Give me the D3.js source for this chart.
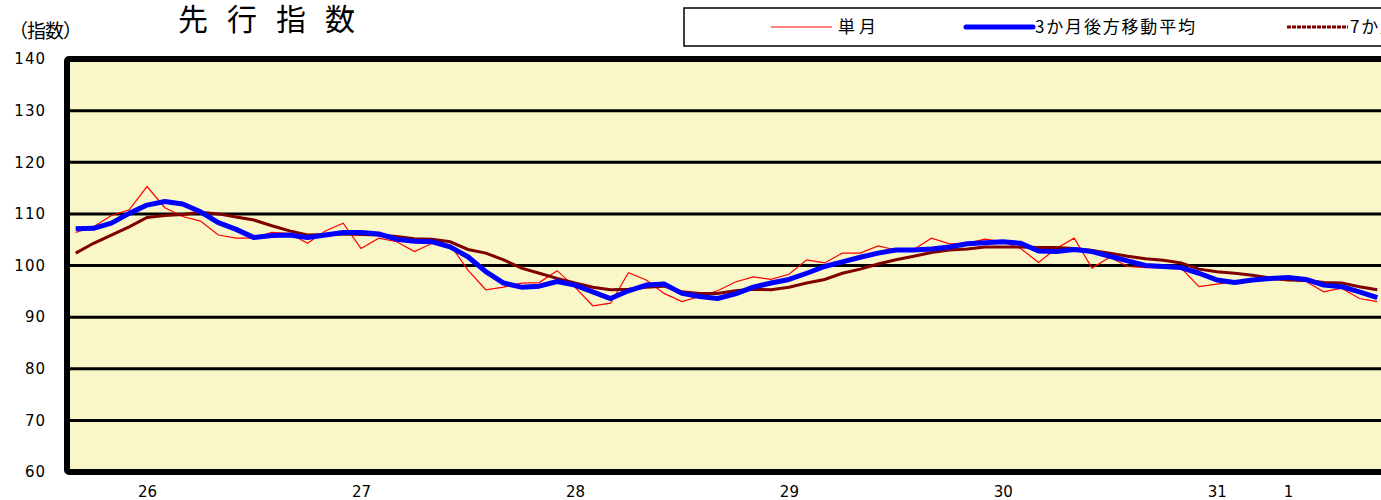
<!DOCTYPE html>
<html>
<head>
<meta charset="utf-8">
<script src="https://cdn.jsdelivr.net/npm/d3@7"></script>
<style>
body { margin: 0; background: #fff; }
svg { display: block; }
</style>
</head>
<body>
<svg width="1381" height="500"></svg>
<script>
// months: Sep 2013 (H25.9) .. Oct 2019 (R1.10)
var months = d3.timeMonth.range(new Date(2013, 8, 1), new Date(2019, 10, 1));

// 単月
var single = [
    106.4, 107.5, 109.7, 110.8, 115.3, 111.2, 109.5, 108.6, 105.9, 105.3, 105.3, 106.4, 106.2, 104.3,
    106.7, 108.2, 103.3, 105.3, 104.6, 102.7, 104.3, 104.0, 99.1, 95.3, 95.8, 96.6, 96.7, 99.0,
    95.8, 92.2, 92.7, 98.6, 97.2, 94.6, 93.0, 94.0, 95.1, 96.8, 97.8, 97.3, 98.3,
    101.1, 100.5, 102.4, 102.4, 103.8, 103.0, 103.1, 105.3, 104.2, 104.3, 105.1, 104.6, 103.3,
    100.6, 103.3, 105.3, 99.5, 101.6, 99.8, 99.6, 99.6, 99.5, 95.9, 96.4, 96.9, 97.2, 97.2,
    97.2, 96.9, 94.9, 95.6, 93.6, 93.0
];

// 3か月後方移動平均
var ma3 = [
    107.1, 107.2, 108.2, 110.1, 111.7, 112.4, 111.9, 110.4, 108.3, 107.0, 105.4, 105.8, 105.9, 105.4,
    105.9, 106.4, 106.4, 106.1, 105.1, 104.7, 104.6, 103.6, 101.7, 98.8, 96.6, 95.8, 96.0, 96.9,
    96.2, 94.9, 93.6, 95.1, 96.2, 96.4, 94.6, 94.0, 93.6, 94.5, 95.8, 96.6, 97.3,
    98.5, 99.8, 100.7, 101.6, 102.4, 103.0, 103.0, 103.2, 103.6, 104.2, 104.4, 104.6, 104.3,
    102.8, 102.7, 103.1, 102.7, 101.8, 100.9, 100.0, 99.8, 99.6, 98.5, 97.2, 96.7, 97.2, 97.5,
    97.7, 97.3, 96.2, 95.9, 94.9, 93.8
];

// 7か月後方移動平均
var ma7 = [
    102.4, 104.3, 105.9, 107.5, 109.3, 109.7, 109.9, 110.3, 110.0, 109.4, 108.8, 107.7, 106.7, 105.9,
    106.0, 106.1, 106.0, 105.9, 105.6, 105.2, 105.1, 104.6, 103.1, 102.4, 101.1, 99.5, 98.5, 97.5,
    96.6, 95.8, 95.3, 95.4, 95.8, 96.0, 94.9, 94.6, 94.6, 95.1, 95.4, 95.3, 95.8,
    96.6, 97.3, 98.5, 99.3, 100.3, 101.1, 101.8, 102.5, 103.0, 103.2, 103.6, 103.6, 103.6,
    103.5, 103.5, 103.3, 102.9, 102.4, 101.8, 101.3, 101.0, 100.5, 99.3, 98.8, 98.5, 98.1, 97.6,
    97.2, 97.1, 96.7, 96.6, 95.9, 95.3
];

// x axis labels (年)
var yearTickMonths = ["2014-01", "2015-01", "2016-01", "2017-01", "2018-01", "2019-01", "2019-05"];
var yearLabels = ["26", "27", "28", "29", "30", "31", "1"];

var yTicks = [60, 70, 80, 90, 100, 110, 120, 130, 140];
var gridValues = [70, 80, 90, 100, 110, 120, 130];

var seriesNames = ["単月", "3か月後方移動平均", "7か月後方移動平均"];

var svg = d3.select("svg");
var jp = "'Noto Sans CJK JP', sans-serif";
var num = "'DejaVu Sans', sans-serif";

var x = d3.scaleLinear().domain([0, months.length - 1]).range([75.7, 75.7 + 17.83 * (months.length - 1)]);
var y = d3.scaleLinear().domain([60, 140]).range([472, 59]);

function monthIndex(s) {
    var p = s.split("-");
    var d = new Date(+p[0], +p[1] - 1, 1);
    return d3.timeMonth.count(months[0], d);
}

// plot background
svg.append("rect")
    .attr("x", 67).attr("y", y(140))
    .attr("width", 1400).attr("height", y(60) - y(140))
    .attr("fill", "#f9f7c7");

// grid
svg.append("g").selectAll("line")
    .data(gridValues)
    .enter().append("line")
    .attr("x1", 67).attr("x2", 1400)
    .attr("y1", function (d) { return y(d); })
    .attr("y2", function (d) { return y(d); })
    .attr("stroke", "#000")
    .attr("stroke-width", 3);

// lines
var line = d3.line()
    .x(function (d, i) { return x(i); })
    .y(function (d) { return y(d); });

svg.append("path").datum(single)
    .attr("d", line).attr("fill", "none")
    .attr("stroke", "#ff0000").attr("stroke-width", 1.2);

svg.append("path").datum(ma7)
    .attr("d", line).attr("fill", "none")
    .attr("stroke", "#800000").attr("stroke-width", 3);

svg.append("path").datum(ma3)
    .attr("d", line).attr("fill", "none")
    .attr("stroke", "#0000ff").attr("stroke-width", 5)
    .attr("stroke-linejoin", "round");

// frame
svg.append("rect")
    .attr("x", 67).attr("y", y(140))
    .attr("width", 1400).attr("height", y(60) - y(140))
    .attr("fill", "none")
    .attr("stroke", "#000").attr("stroke-width", 6)
    .attr("rx", 2);

// y axis
var yAxis = svg.append("g")
    .attr("transform", "translate(46,0)")
    .call(d3.axisLeft(y).tickValues(yTicks).tickSize(0).tickPadding(0));
yAxis.select(".domain").remove();
yAxis.selectAll("text")
    .attr("font-family", num).attr("font-size", 15)
    .attr("letter-spacing", 1)
    .attr("fill", "#000");

// x axis
var xAxis = svg.append("g")
    .attr("transform", "translate(0,486)")
    .call(d3.axisBottom(x)
        .tickValues(yearTickMonths.map(monthIndex))
        .tickFormat(function (d, i) { return yearLabels[i]; })
        .tickSize(0).tickPadding(0));
xAxis.select(".domain").remove();
xAxis.selectAll("text")
    .attr("font-family", num).attr("font-size", 15)
    .attr("fill", "#000");

// titles
svg.append("text")
    .attr("x", 178).attr("y", 30)
    .attr("font-family", jp).attr("font-size", 30)
    .attr("letter-spacing", 19)
    .text("先行指数");

svg.append("text")
    .attr("x", 9).attr("y", 38)
    .attr("font-family", jp).attr("font-size", 19)
    .attr("letter-spacing", -1)
    .text("（指数）");

// legend
var lg = svg.append("g");
lg.append("rect")
    .attr("x", 684).attr("y", 8)
    .attr("width", 800).attr("height", 38)
    .attr("fill", "#fff").attr("stroke", "#000").attr("stroke-width", 1.5);

var legendItems = [
    { name: seriesNames[0], color: "#ff0000", w: 1.2, x1: 771, x2: 832, tx: 838, tl: 38, dash: null },
    { name: seriesNames[1], color: "#0000ff", w: 5, x1: 966, x2: 1033, tx: 1035, tl: 160, dash: null },
    { name: seriesNames[2], color: "#800000", w: 3, x1: 1287, x2: 1348, tx: 1350, tl: 160, dash: "4,1" }
];
legendItems.forEach(function (d) {
    lg.append("line")
        .attr("x1", d.x1).attr("x2", d.x2)
        .attr("y1", 27).attr("y2", 27)
        .attr("stroke", d.color).attr("stroke-width", d.w)
        .attr("stroke-dasharray", d.dash)
        .attr("stroke-linecap", d.w > 3 ? "round" : "butt");
    lg.append("text")
        .attr("x", d.tx).attr("y", 33)
        .attr("font-family", jp).attr("font-size", 17)
        .attr("textLength", d.tl).attr("lengthAdjust", "spacing")
        .text(d.name);
});
</script>
</body>
</html>
